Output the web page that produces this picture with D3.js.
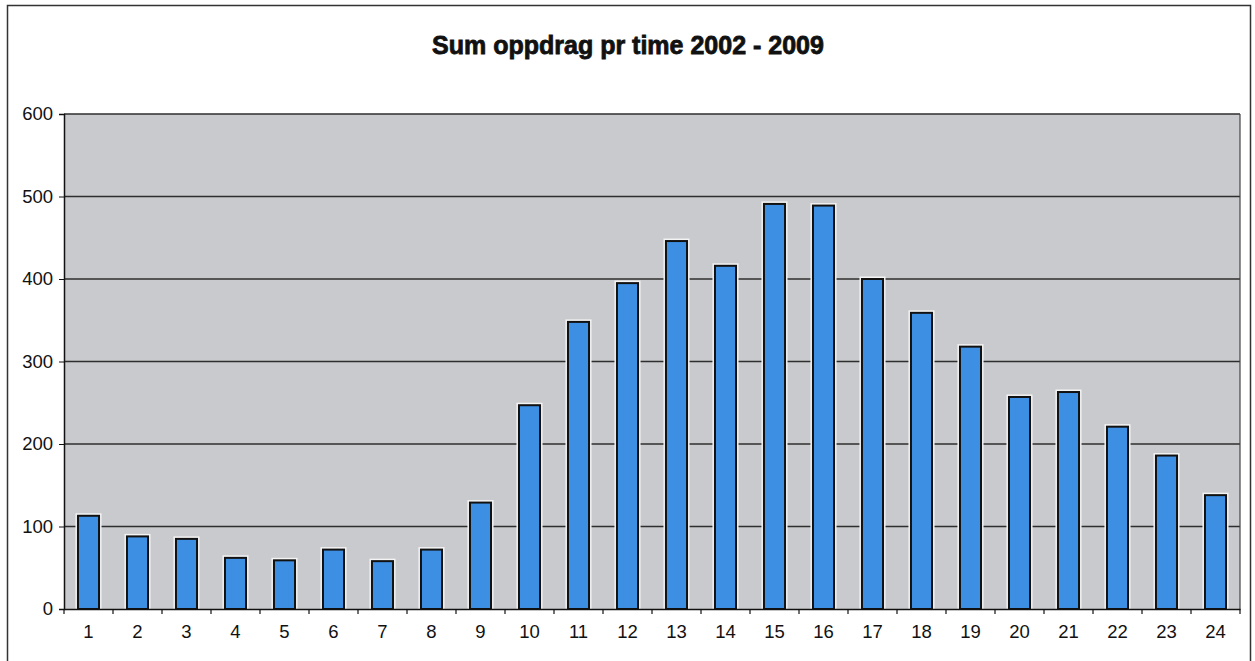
<!DOCTYPE html>
<html><head><meta charset="utf-8">
<script src="https://cdn.jsdelivr.net/npm/d3@7"></script>
<style>body{margin:0;background:#fff}svg{display:block}</style>
</head><body>
<svg id="c" width="1255" height="661"></svg>
<script>
const hours = ["1","2","3","4","5","6","7","8","9","10","11","12","13","14","15","16","17","18","19","20","21","22","23","24"];
const values = [113,88,85,62,59,72,58,72,129,247,348,395,446,416,491,489,400,359,318,257,263,221,186,138];
const yTicks = [0,100,200,300,400,500,600];
const title = "Sum oppdrag pr time 2002 - 2009";

const svg = d3.select("#c");
const m = {left:64, right:1240, top:114, bottom:609};
const FONT = "Liberation Sans, Arial, sans-serif";

// outer frame
svg.append("rect").attr("x",7.5).attr("y",5.5).attr("width",1243).attr("height",670)
  .attr("fill","#fff").attr("stroke","#333").attr("stroke-width",1.5);

const x = d3.scaleBand().domain(hours).range([m.left,m.right]).paddingInner(0.57).paddingOuter(0.285);
const xb = d3.scaleBand().domain(hours).range([m.left,m.right]);
const y = d3.scaleLinear().domain([0,600]).range([m.bottom,m.top]);

svg.append("rect").attr("x",m.left).attr("y",m.top).attr("width",m.right-m.left).attr("height",m.bottom-m.top)
  .attr("fill","#c9cacd");

// gridlines
svg.append("g").selectAll("line").data(yTicks.filter(d=>d>0)).join("line")
  .attr("x1",m.left).attr("x2",m.right).attr("y1",d=>y(d)).attr("y2",d=>y(d))
  .attr("stroke","#2e2e2e").attr("stroke-width",1.3);
svg.append("line").attr("x1",m.right).attr("x2",m.right).attr("y1",m.top).attr("y2",m.bottom)
  .attr("stroke","#444").attr("stroke-width",1.2);

// bars: white halo then bar
const bars = svg.append("g");
bars.selectAll("rect.h").data(values).join("rect").attr("class","h")
  .attr("x",(d,i)=>x(hours[i])-1.5).attr("y",d=>y(d)-1.5)
  .attr("width",x.bandwidth()+3).attr("height",d=>m.bottom-y(d)+1.5)
  .attr("fill","none").attr("stroke","#f4f4f4").attr("stroke-width",2);
bars.selectAll("rect.b").data(values).join("rect").attr("class","b")
  .attr("x",(d,i)=>x(hours[i])).attr("y",d=>y(d))
  .attr("width",x.bandwidth()).attr("height",d=>m.bottom-y(d))
  .attr("fill","#3d8fe4").attr("stroke","#111").attr("stroke-width",2);

// y axis
const ya = svg.append("g").attr("transform",`translate(${m.left},0)`)
  .call(d3.axisLeft(y).tickValues(yTicks).tickSize(5).tickPadding(6));
ya.select(".domain").attr("stroke","#111").attr("stroke-width",1.5);
ya.selectAll(".tick line").attr("stroke","#111");
ya.selectAll("text").attr("font-family",FONT).attr("font-size",18.5).attr("fill","#111");

// x axis
const xa = svg.append("g").attr("transform",`translate(0,${m.bottom})`)
  .call(d3.axisBottom(xb).tickSize(0).tickPadding(16));
xa.select(".domain").attr("stroke","#111").attr("stroke-width",1.5);
xa.selectAll("text").attr("font-family",FONT).attr("font-size",18.5).attr("fill","#111");
// category separator ticks
svg.append("g").selectAll("line").data(hours.concat(["end"])).join("line")
  .attr("x1",(d,i)=>m.left+i*xb.step()).attr("x2",(d,i)=>m.left+i*xb.step())
  .attr("y1",m.bottom).attr("y2",m.bottom+5).attr("stroke","#111").attr("stroke-width",1.2);

svg.append("text").attr("x",628).attr("y",54).attr("text-anchor","middle")
  .attr("font-family",FONT).attr("font-weight","bold").attr("font-size",25)
  .attr("fill","#111").attr("stroke","#111").attr("stroke-width",0.8).text(title);
</script>
</body></html>
